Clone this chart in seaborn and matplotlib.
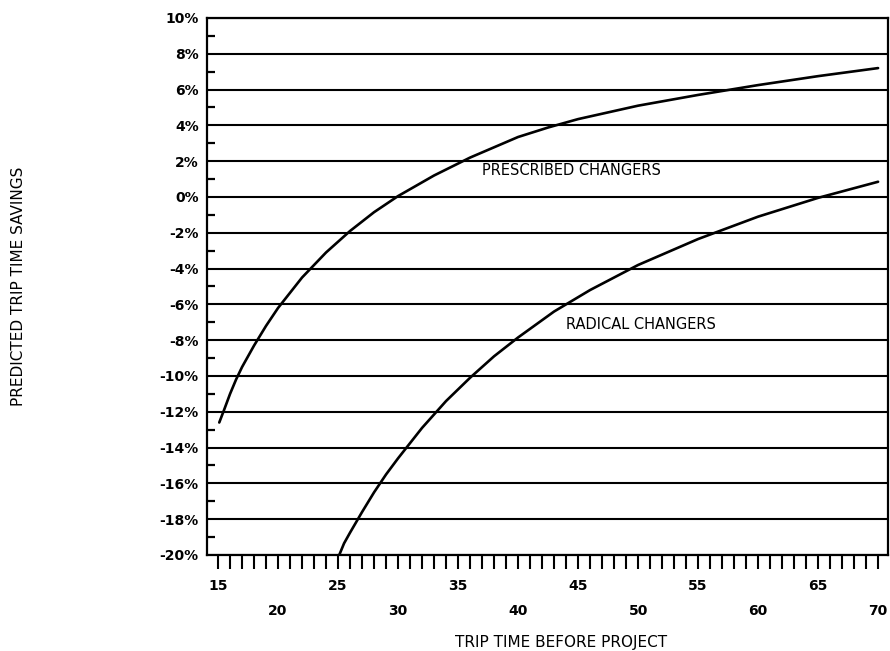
import numpy as np
import pandas as pd
import matplotlib
matplotlib.use("Agg")
import matplotlib.pyplot as plt
import seaborn as sns
from matplotlib.ticker import FixedLocator, FuncFormatter

# --------------------------
# Data
# --------------------------
prescribed_x = [15.1, 15.5, 16, 16.5, 17, 17.5, 18, 19, 20, 22, 24, 26, 28, 30, 33, 36, 40,
                42.5, 45, 50, 55, 60, 65, 70]
prescribed_y = [-12.6, -11.9, -11.0, -10.2, -9.5, -8.9, -8.3, -7.2, -6.2, -4.5, -3.1, -1.9,
                -0.85, 0.05, 1.2, 2.2, 3.35, 3.88, 4.35, 5.1, 5.7, 6.25, 6.75, 7.2]

radical_x = [25.1, 25.5, 26, 27, 28, 29, 30, 32, 34, 36, 38, 40, 43, 46, 50, 55, 60, 65, 70]
radical_y = [-20.0, -19.35, -18.75, -17.6, -16.5, -15.5, -14.6, -12.9, -11.4, -10.1, -8.9,
             -7.85, -6.4, -5.2, -3.8, -2.35, -1.1, -0.05, 0.85]

series_names = ["PRESCRIBED CHANGERS", "RADICAL CHANGERS"]
upper_x_labels = [15, 25, 35, 45, 55, 65]
lower_x_labels = [20, 30, 40, 50, 60, 70]
y_major = list(range(-20, 11, 2))
y_minor = list(range(-19, 10, 2))

df = pd.concat([
    pd.DataFrame({"trip_time": prescribed_x, "savings": prescribed_y, "group": series_names[0]}),
    pd.DataFrame({"trip_time": radical_x, "savings": radical_y, "group": series_names[1]}),
])

# --------------------------
# Style
# --------------------------
sns.set_style("white")
plt.rcParams["font.family"] = ["DejaVu Sans"]
plt.rcParams["text.color"] = "black"
plt.rcParams["axes.labelcolor"] = "black"
plt.rcParams["xtick.color"] = "black"
plt.rcParams["ytick.color"] = "black"

fig = plt.figure(figsize=(8.9, 6.51), dpi=100)
ax = fig.add_axes([0.2326, 0.1475, 0.7652, 0.8249])

# gridlines at every 2%
for v in y_major:
    ax.axhline(v, color="black", lw=1.5, zorder=1)

sns.lineplot(data=df, x="trip_time", y="savings", hue="group",
             palette=["black", "black"], estimator=None, sort=False,
             lw=1.9, legend=False, ax=ax, zorder=3)

ax.set_xlim(14.08, 70.83)
ax.set_ylim(-20, 10)

for s in ax.spines.values():
    s.set_visible(True)
    s.set_color("black")
    s.set_linewidth(1.6)

# y ticks
ax.yaxis.set_major_locator(FixedLocator(y_major))
ax.yaxis.set_minor_locator(FixedLocator(y_minor))
ax.yaxis.set_major_formatter(FuncFormatter(lambda v, p: f"{int(v)}%"))
ax.tick_params(axis="y", which="both", left=True, colors="black")
ax.tick_params(axis="y", which="major", length=0, pad=6, labelsize=10)
ax.tick_params(axis="y", which="minor", direction="in", length=6, width=1.6)

# x ticks: two rows of labels
ax.xaxis.set_major_locator(FixedLocator(lower_x_labels))
ax.xaxis.set_minor_locator(FixedLocator([v for v in range(15, 71) if v not in lower_x_labels]))
ax.xaxis.set_major_formatter(FuncFormatter(lambda v, p: f"{int(v)}"))
ax.xaxis.set_minor_formatter(FuncFormatter(lambda v, p: f"{int(round(v))}" if int(round(v)) in upper_x_labels else ""))
ax.tick_params(axis="x", which="both", bottom=True, direction="out", length=10, width=1.5,
               labelsize=10, colors="black")
ax.tick_params(axis="x", which="major", pad=25)
ax.tick_params(axis="x", which="minor", pad=7)

for lab in ax.get_xticklabels(which="both") + ax.get_yticklabels():
    lab.set_fontweight("bold")

ax.set_xlabel("TRIP TIME BEFORE PROJECT", fontsize=11, color="black")
ax.set_ylabel("PREDICTED TRIP TIME SAVINGS", fontsize=11, color="black")
ax.xaxis.set_label_coords(0.52, -0.149)
ax.yaxis.set_label_coords(-0.266, 0.5)

ax.text(37.0, 1.5, series_names[0], fontsize=10.5, va="center", ha="left", color="black")
ax.text(44.0, -7.1, series_names[1], fontsize=10.5, va="center", ha="left", color="black")

fig.savefig("out.png", dpi=100)
